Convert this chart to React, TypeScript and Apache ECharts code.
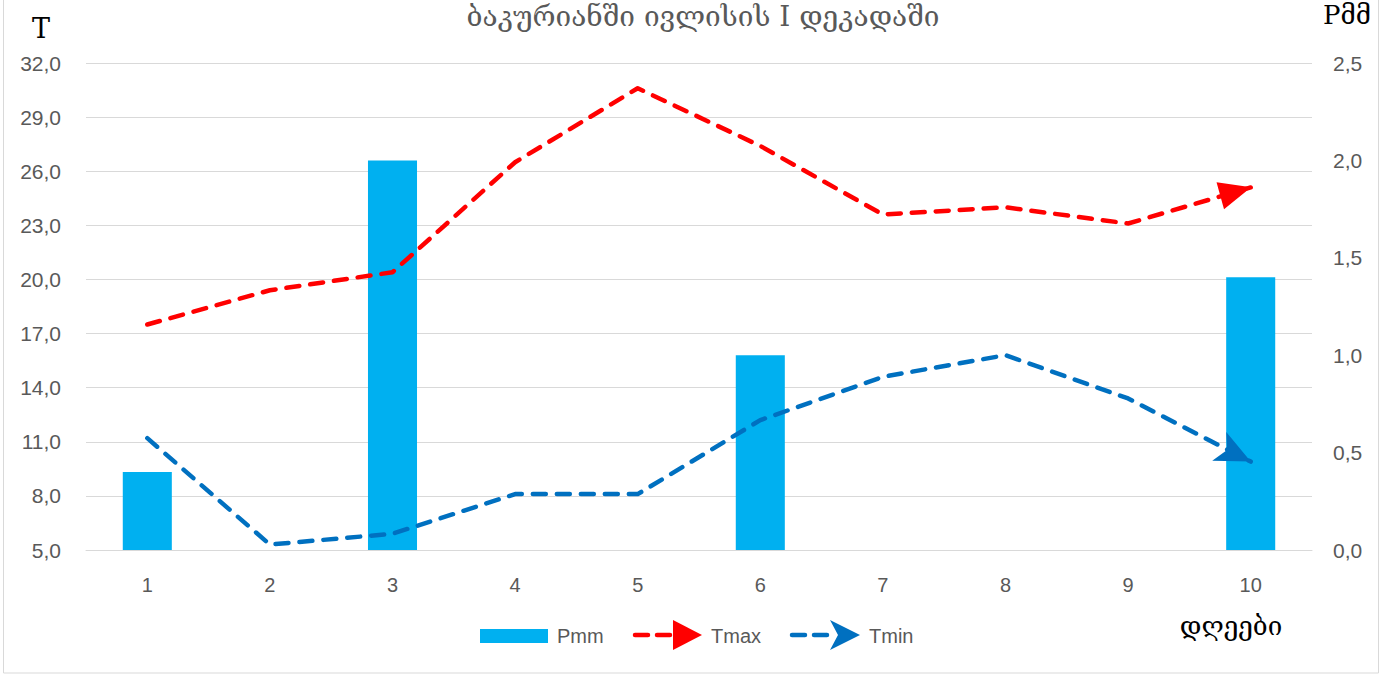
import React, { useEffect, useRef } from 'react';
import * as echarts from 'echarts';

const days = ['1', '2', '3', '4', '5', '6', '7', '8', '9', '10'];
const pmm = [0.4, 0, 2.0, 0, 0, 1.0, 0, 0, 0, 1.4];
const tmax = [17.5, 19.4, 20.4, 26.5, 30.6, 27.4, 23.6, 24.0, 23.1, 25.1];
const tmin = [11.2, 5.3, 5.9, 8.1, 8.1, 12.2, 14.6, 15.8, 13.4, 9.9];
const leftTicks = { min: 5, max: 32, interval: 3 };
const rightTicks = { min: 0, max: 2.5, interval: 0.5 };

const titleText = 'ბაკურიანში ივლისის I დეკადაში';
const leftName = 'T';
const rightName = 'Pმმ';
const xName = 'დღეები';

const GRAY = '#595959';
const LABEL_FONT = '"Liberation Sans", "Open Sans", sans-serif';
const SERIF = '"DejaVu Serif", "Liberation Serif", serif';

function fmt(v: number) {
  return v.toFixed(1).replace('.', ',');
}

function lineData(vals: number[], endSymbol: any) {
  return vals.map((v, i) =>
    i === vals.length - 1 ? { value: v, ...endSymbol } : { value: v, symbol: 'none' }
  );
}

export default function App() {
  const ref = useRef<HTMLDivElement>(null);
  useEffect(() => {
    if (!ref.current) return;
    const chart = echarts.init(ref.current, undefined, { renderer: 'svg' });
    const dashStyle = (color: string) => ({
      color,
      width: 4.5,
      type: [13, 11] as any,
      cap: 'round' as const,
      join: 'round' as const,
    });
    chart.setOption({
      animation: false,
      backgroundColor: '#ffffff',
      grid: { left: 86, right: 71, top: 63, bottom: 125, containLabel: false },
      xAxis: {
        type: 'category',
        data: days,
        axisLine: { show: true, lineStyle: { color: '#d9d9d9', width: 1 } },
        axisTick: { show: false },
        axisLabel: { color: GRAY, fontSize: 20, fontFamily: LABEL_FONT, margin: 25 },
      },
      yAxis: [
        {
          type: 'value',
          ...leftTicks,
          axisLine: { show: false },
          axisTick: { show: false },
          splitLine: { lineStyle: { color: '#d9d9d9', width: 1 } },
          axisLabel: {
            color: GRAY,
            fontSize: 21,
            fontFamily: LABEL_FONT,
            margin: 25,
            formatter: (v: number) => fmt(v),
          },
        },
        {
          type: 'value',
          ...rightTicks,
          axisLine: { show: false },
          axisTick: { show: false },
          splitLine: { show: false },
          axisLabel: {
            color: GRAY,
            fontSize: 21,
            fontFamily: LABEL_FONT,
            margin: 21,
            formatter: (v: number) => fmt(v),
          },
        },
      ],
      series: [
        {
          name: 'Pmm',
          type: 'bar',
          yAxisIndex: 1,
          data: pmm,
          barWidth: '40%',
          itemStyle: { color: '#00B0F0' },
        },
        {
          name: 'Tmax',
          type: 'line',
          yAxisIndex: 0,
          symbol: 'none',
          lineStyle: dashStyle('#FF0000'),
          itemStyle: { color: '#FF0000' },
          data: lineData(tmax, {
            symbol: 'triangle',
            symbolSize: [28, 32],
            symbolRotate: -74.5,
            symbolOffset: [-15, 4],
          }),
          z: 3,
        },
        {
          name: 'Tmin',
          type: 'line',
          yAxisIndex: 0,
          symbol: 'none',
          lineStyle: dashStyle('#0070C0'),
          itemStyle: { color: '#0070C0' },
          data: lineData(tmin, {
            symbol: 'arrow',
            symbolSize: [24, 35],
            symbolRotate: -116,
            symbolOffset: [0, 0],
          }),
          z: 3,
        },
      ],
      graphic: [
        {
          type: 'rect',
          shape: { x: 3.5, y: -5, width: 1375, height: 678 },
          style: { fill: 'none', stroke: '#d9d9d9', lineWidth: 1 },
          silent: true,
        },
        {
          type: 'text',
          x: 703,
          y: 16,
          style: {
            text: titleText,
            fill: GRAY,
            font: `28px ${SERIF}`,
            textAlign: 'center',
            textVerticalAlign: 'middle',
          },
        },
        {
          type: 'text',
          x: 41,
          y: 28,
          style: {
            text: leftName,
            fill: '#000',
            font: `27px ${SERIF}`,
            textAlign: 'center',
            textVerticalAlign: 'middle',
          },
        },
        {
          type: 'text',
          x: 1347,
          y: 15,
          style: {
            text: rightName,
            fill: '#000',
            font: `26px ${SERIF}`,
            textAlign: 'center',
            textVerticalAlign: 'middle',
          },
        },
        {
          type: 'text',
          x: 1231,
          y: 626,
          style: {
            text: xName,
            fill: '#000',
            font: `26px ${SERIF}`,
            textAlign: 'center',
            textVerticalAlign: 'middle',
          },
        },
        // legend
        {
          type: 'rect',
          shape: { x: 480, y: 629, width: 68, height: 14 },
          style: { fill: '#00B0F0' },
        },
        {
          type: 'text',
          x: 557,
          y: 636,
          style: { text: 'Pmm', fill: GRAY, font: `20px ${LABEL_FONT}`, textVerticalAlign: 'middle' },
        },
        {
          type: 'line',
          shape: { x1: 635, y1: 635, x2: 676, y2: 635 },
          style: { stroke: '#FF0000', lineWidth: 4.5, lineDash: [13, 9], lineCap: 'round' },
        },
        {
          type: 'polygon',
          shape: { points: [[673, 620], [702, 635], [673, 650]] },
          style: { fill: '#FF0000' },
        },
        {
          type: 'text',
          x: 711,
          y: 636,
          style: { text: 'Tmax', fill: GRAY, font: `20px ${LABEL_FONT}`, textVerticalAlign: 'middle' },
        },
        {
          type: 'line',
          shape: { x1: 792, y1: 635, x2: 836, y2: 635 },
          style: { stroke: '#0070C0', lineWidth: 4.5, lineDash: [13, 9], lineCap: 'round' },
        },
        {
          type: 'polygon',
          shape: { points: [[830, 620], [860, 635], [830, 650], [838, 635]] },
          style: { fill: '#0070C0' },
        },
        {
          type: 'text',
          x: 869,
          y: 636,
          style: { text: 'Tmin', fill: GRAY, font: `20px ${LABEL_FONT}`, textVerticalAlign: 'middle' },
        },
      ],
    });
    return () => chart.dispose();
  }, []);
  return (
    <div
      ref={ref}
      style={{ position: 'fixed', left: 0, top: 0, width: 1383, height: 675, background: '#fff' }}
    />
  );
}
